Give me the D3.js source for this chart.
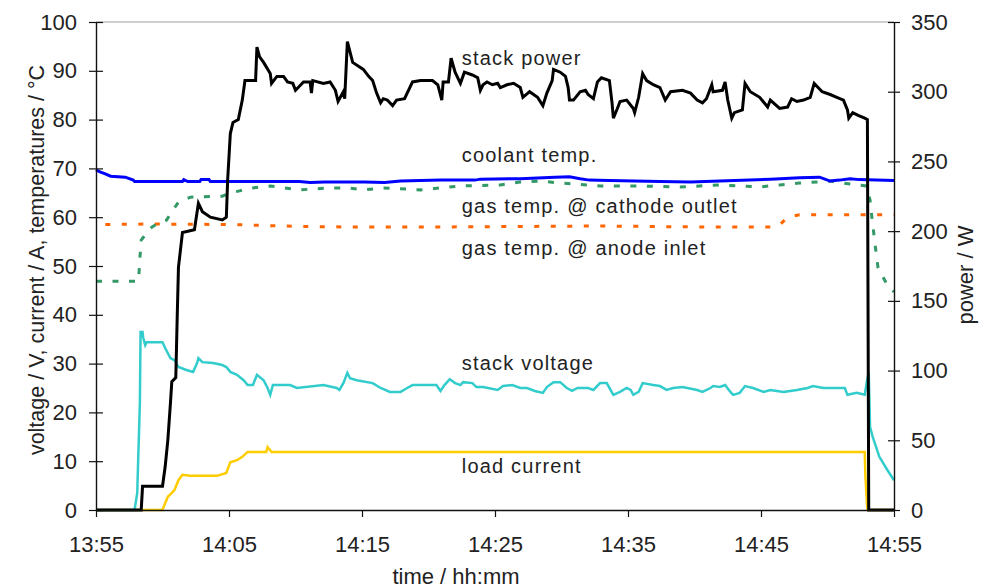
<!DOCTYPE html>
<html>
<head>
<meta charset="utf-8">
<script src="https://cdn.jsdelivr.net/npm/d3@7"></script>
<style>
  body { margin: 0; background: #fff; }
  text { font-family: "Liberation Sans", Arial, sans-serif; fill: #222; }
</style>
</head>
<body>
<svg id="chart"></svg>
<script>
// time in minutes after 13:55, value in W or V / A / degC
var powerData = [[0,0],[3.4,0],[3.5,17],[5.0,17],[5.2,31],[5.4,50],[5.6,77],[5.7,92],[6.0,95],[6.1,136],[6.2,174],[6.5,199],[7.4,201],[7.7,220],[8.0,214],[8.6,210],[9.5,208],[9.8,210],[9.9,237],[10.1,270],[10.3,278],[10.7,280],[11.0,294],[11.2,308],[12.0,308],[12.1,332],[12.3,325],[12.6,321],[13.1,313],[13.2,306],[13.6,311],[14.1,311],[14.4,307],[14.8,306],[15.0,301],[15.6,307],[16.1,307],[16.2,299],[16.3,308],[17.1,306],[17.6,307],[18.0,301],[18.2,293],[18.6,300],[18.7,295],[18.9,336],[19.3,321],[20.1,316],[20.5,311],[20.8,308],[21.1,299],[21.4,292],[21.6,295],[21.9,294],[22.3,290],[22.6,294],[23.2,295],[23.8,307],[24.4,308],[25.3,308],[25.7,305],[26.0,294],[26.1,307],[26.5,307],[26.7,324],[27.0,314],[27.4,306],[27.7,314],[28.3,312],[28.7,310],[28.9,301],[29.1,305],[29.4,307],[29.8,305],[30.2,306],[30.4,303],[30.9,305],[31.4,306],[31.9,303],[32.1,296],[32.6,300],[33.2,296],[33.6,290],[33.9,299],[34.3,308],[34.4,316],[34.9,314],[35.3,311],[35.5,303],[35.6,294],[35.9,294],[36.4,300],[36.8,301],[37.0,298],[37.4,295],[37.7,307],[38.0,310],[38.6,308],[38.8,292],[38.9,281],[39.2,288],[39.4,293],[39.9,294],[40.4,288],[40.5,285],[40.8,296],[41.1,313],[41.4,308],[41.9,305],[42.4,303],[42.8,294],[43.2,300],[44.1,301],[44.7,299],[45.2,294],[45.6,292],[45.9,295],[46.3,305],[46.4,300],[47.1,301],[47.3,307],[47.5,294],[47.8,281],[48.0,285],[48.6,287],[48.8,306],[49.2,300],[49.9,296],[50.5,289],[50.7,294],[51.4,288],[52.0,289],[52.3,295],[52.7,293],[53.2,294],[53.7,296],[54.0,306],[54.6,300],[55.2,298],[55.7,296],[56.2,294],[56.5,287],[56.6,281],[56.9,285],[57.3,283],[57.8,281],[58.0,280],[58.1,0],[60,0]];

var coolantData = [[0,69.7],[0.3,69.3],[0.7,68.9],[1.1,68.4],[2.2,68.2],[2.8,67.6],[2.9,67.3],[6.5,67.3],[6.6,67.7],[6.9,67.3],[7.8,67.3],[7.9,67.7],[8.5,67.7],[8.6,67.3],[15.3,67.3],[16.1,67.1],[17.2,67.2],[20.2,67.2],[21.7,67.1],[22.9,67.4],[25.9,67.6],[28.5,67.6],[28.9,67.8],[31.9,67.9],[34.5,68.2],[35.6,68.3],[36.4,67.9],[37.1,67.6],[38.6,67.5],[42.4,67.3],[44.7,67.2],[46.9,67.4],[50.7,67.8],[52.9,68.1],[54.4,68.2],[54.8,67.8],[55.2,67.4],[55.9,67.6],[56.7,67.9],[57.4,67.7],[60,67.5]];

var cathodeData = [[0,46.9],[3.2,46.9],[3.3,51.6],[3.4,55.3],[4.1,57.8],[4.8,59.0],[5.3,59.4],[5.9,61.9],[6.2,63.1],[7.1,64.1],[9.5,64.3],[10.1,65.0],[10.8,65.4],[11.8,66.0],[13.1,66.4],[14.1,66.0],[15.3,65.6],[17.6,66.0],[18.9,66.0],[20.1,65.6],[21.6,66.0],[24.4,65.6],[27.4,66.4],[30.4,66.6],[31.9,67.2],[33.4,67.4],[34.9,67.0],[37.9,66.4],[40.9,66.4],[43.9,66.2],[45.4,66.4],[46.9,66.6],[48.4,66.4],[49.9,66.2],[51.4,66.6],[52.9,67.0],[55.2,67.4],[56.7,66.8],[57.9,66.4],[58.2,63.5],[58.3,60.9],[58.6,53.9],[58.8,49.6],[59.5,46.1],[60,44.7]];

var anodeData = [[0.7,58.5],[4.1,58.6],[10.1,58.5],[15.3,58.1],[19.0,58.0],[26.0,58.0],[37.9,58.2],[45.4,58.0],[50.7,58.0],[51.4,58.4],[52.0,60.0],[52.9,60.5],[57.4,60.5],[60,60.5]];

var voltageData = [[0,0],[2.9,0],[3.1,3.5],[3.2,12.9],[3.3,22],[3.35,36.5],[3.5,36.5],[3.55,35.3],[3.7,33.8],[3.8,34.4],[5.0,34.4],[5.2,33.2],[5.6,31.1],[5.9,30.7],[6.2,29.3],[6.8,28.7],[7.3,28.3],[7.6,30.1],[7.7,31.1],[8.0,30.3],[8.8,30.1],[9.5,29.7],[9.8,29.3],[10.1,28.3],[10.6,27.7],[11.1,26.6],[11.4,25.6],[11.8,25.6],[12.1,27.7],[12.6,26.6],[12.9,25],[13.1,23.6],[13.3,25.6],[14.6,25.6],[15.1,25],[17.1,25.6],[18.1,25],[18.3,24.6],[18.6,26],[18.9,28.1],[19.1,27],[19.6,26.6],[20.8,26],[21.4,25],[22.1,24.2],[22.9,24.2],[23.4,25],[23.8,25.6],[25.6,25.6],[25.9,24.4],[26.2,25.6],[26.6,26.8],[27.0,26],[27.4,25.6],[27.6,26.2],[28.3,26],[28.6,25.2],[29.1,25.2],[30.2,24.6],[30.6,25.4],[31.3,25.6],[31.9,25],[32.4,25],[33.0,24.4],[33.6,24],[33.9,25.2],[34.4,26.2],[34.9,26.2],[35.4,25],[35.8,24.4],[36.2,25],[37.0,25],[37.4,24.6],[37.9,26],[38.4,26],[38.9,23.6],[39.4,24.2],[39.9,25],[40.2,24.6],[40.4,23.6],[40.8,24.2],[41.1,26],[41.9,25.6],[42.4,25.4],[42.9,24.6],[43.4,25],[44.1,25.2],[45.2,24.6],[45.6,24.2],[46.2,25],[46.4,25.4],[46.9,25.2],[47.3,25.6],[47.7,24.2],[47.9,23.6],[48.4,24],[48.8,25.4],[49.4,25],[50.2,24.2],[50.7,24.6],[51.7,24.2],[52.7,24.6],[53.5,25],[53.9,25.4],[54.7,25],[56.3,25],[56.5,23.6],[57.2,24],[57.8,23.6],[58.0,27],[58.1,28.1],[58.2,17],[58.4,15],[58.9,10.9],[59.5,8.2],[60,6.1]];

var currentData = [[0,0],[3.7,0],[5.0,0],[5.2,1.4],[5.4,2.7],[5.7,3.5],[5.9,4.1],[6.2,6.1],[6.5,7.2],[7.1,7.0],[9.1,7.0],[9.8,7.6],[10.1,9.8],[10.6,10.2],[11.0,10.9],[11.4,11.9],[12.8,11.9],[12.9,12.9],[13.2,11.9],[57.8,11.9],[57.85,6.8],[58.0,0],[60,0]];

var timeTicks = [0, 10, 20, 30, 40, 50, 60];
var leftTicks = [0, 10, 20, 30, 40, 50, 60, 70, 80, 90, 100];
var rightTicks = [0, 50, 100, 150, 200, 250, 300, 350];

var labelNames = ['stack power', 'coolant temp.', 'gas temp. @ cathode outlet', 'gas temp. @ anode inlet', 'stack voltage', 'load current'];
var labelLevels = [91.2, 71.3, 60.9, 52.3, 28.7, 7.6]; // left axis units, text baseline
var labelTime = 27.5;

var svgWidth = 981;
var svgHeight = 588;
var plotLeft = 96, plotRight = 894, plotTop = 22, plotBottom = 510;

var base = new Date(2000, 0, 1, 13, 55);
function toTime(m) {
  return new Date(base.getTime() + m * 60000);
}

var svg = d3.select('#chart')
  .attr('width', svgWidth)
  .attr('height', svgHeight);

var timeScale = d3.scaleTime()
  .domain([toTime(0), toTime(60)])
  .range([plotLeft, plotRight]);
var tempScale = d3.scaleLinear()
  .domain([0, 100])
  .range([plotBottom, plotTop]);
var powerScale = d3.scaleLinear()
  .domain([0, 350])
  .range([plotBottom, plotTop]);

// top border
svg.append('line')
  .attr('x1', plotLeft).attr('x2', plotRight)
  .attr('y1', plotTop).attr('y2', plotTop)
  .attr('stroke', '#a0a0a0')
  .attr('stroke-width', 1);

function lineFor(scale) {
  return d3.line()
    .x(function(d) { return timeScale(toTime(d[0])); })
    .y(function(d) { return scale(d[1]); });
}

var series = [
  { data: anodeData, scale: tempScale, color: '#ff6600', width: 3, dash: '5,11.5' },
  { data: cathodeData, scale: tempScale, color: '#339966', width: 3, dash: '6,10.5' },
  { data: coolantData, scale: tempScale, color: '#0000ff', width: 3, dash: null },
  { data: currentData, scale: tempScale, color: '#ffcc00', width: 2.5, dash: null },
  { data: voltageData, scale: tempScale, color: '#33cccc', width: 2.5, dash: null },
  { data: powerData, scale: powerScale, color: '#000000', width: 3, dash: null }
];

svg.append('g')
  .selectAll('path')
  .data(series)
  .enter().append('path')
    .attr('d', function(s) { return lineFor(s.scale)(s.data); })
    .attr('fill', 'none')
    .attr('stroke', function(s) { return s.color; })
    .attr('stroke-width', function(s) { return s.width; })
    .attr('stroke-dasharray', function(s) { return s.dash; })
    .attr('stroke-linejoin', 'miter');

// axes
var leftAxis = svg.append('g')
  .attr('transform', 'translate(' + plotLeft + ',0)')
  .call(d3.axisLeft(tempScale).tickValues(leftTicks).tickSize(7).tickSizeOuter(0).tickPadding(12));
leftAxis.selectAll('.tick line').attr('x1', 7);

var rightAxis = svg.append('g')
  .attr('transform', 'translate(' + plotRight + ',0)')
  .call(d3.axisRight(powerScale).tickValues(rightTicks).tickSize(6).tickSizeOuter(0).tickPadding(11));
rightAxis.selectAll('.tick line').attr('x1', -6);

var bottomAxis = svg.append('g')
  .attr('transform', 'translate(0,' + plotBottom + ')')
  .call(d3.axisBottom(timeScale)
    .tickValues(timeTicks.map(toTime))
    .tickFormat(d3.timeFormat('%H:%M'))
    .tickSize(7).tickSizeOuter(0).tickPadding(19));

[leftAxis, rightAxis, bottomAxis].forEach(function(g) {
  g.attr('font-size', 22).attr('font-family', null);
  g.selectAll('path.domain').attr('stroke', '#111').attr('stroke-width', 1.4);
  g.selectAll('.tick line').attr('stroke', '#111').attr('stroke-width', 1.2);
  g.selectAll('.tick text').attr('fill', '#222');
});

// series labels
svg.append('g')
  .selectAll('text')
  .data(labelNames)
  .enter().append('text')
    .attr('x', timeScale(toTime(labelTime)))
    .attr('y', function(d, i) { return tempScale(labelLevels[i]); })
    .attr('font-size', 20)
    .attr('letter-spacing', 1.2)
    .text(function(d) { return d; });

// axis titles
svg.append('text')
  .attr('transform', 'translate(44,260) rotate(-90)')
  .attr('text-anchor', 'middle')
  .attr('font-size', 21.5)
  .text('voltage / V, current / A, temperatures / °C');

svg.append('text')
  .attr('transform', 'translate(973,275) rotate(-90)')
  .attr('text-anchor', 'middle')
  .attr('font-size', 22)
  .text('power / W');

svg.append('text')
  .attr('x', 456)
  .attr('y', 584)
  .attr('text-anchor', 'middle')
  .attr('font-size', 22)
  .text('time / hh:mm');
</script>
</body>
</html>
